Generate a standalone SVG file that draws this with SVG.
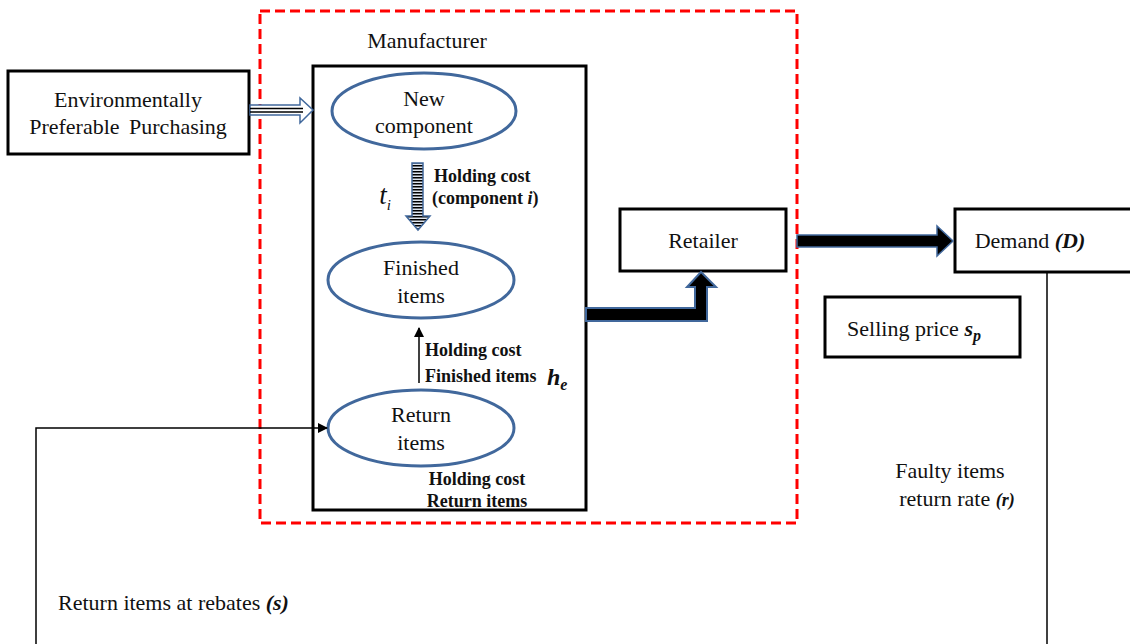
<svg xmlns="http://www.w3.org/2000/svg" width="1130" height="644" viewBox="0 0 1130 644">
<style>
.t{font-family:"Liberation Serif",serif;font-size:22px;fill:#111;text-anchor:middle}
.s{text-anchor:start}
.b{font-family:"Liberation Serif",serif;font-size:18px;font-weight:bold;fill:#111}
.c{text-anchor:middle}
.box{fill:#fff;stroke:#000;stroke-width:3}
.ell{fill:#fff;stroke:#41689c;stroke-width:3}
.ln{fill:none;stroke:#000;stroke-width:1.5}
</style>
<defs>
<marker id="ah" markerWidth="10" markerHeight="10" refX="9" refY="5" orient="auto" markerUnits="userSpaceOnUse">
<path d="M0,0 L10,5 L0,10 z" fill="#000"/>
</marker>
<pattern id="hs" width="4" height="3" patternUnits="userSpaceOnUse">
<rect width="4" height="3" fill="#dfe6f0"/>
<rect width="4" height="1.5" fill="#000"/>
</pattern>
</defs>
<rect width="1130" height="644" fill="#fff"/>

<g id="manufacturer-boundary">
<rect x="260" y="11" width="537" height="512" fill="none" stroke="#ff0000" stroke-width="3" stroke-dasharray="10,5"/>
<text class="t" x="427" y="48">Manufacturer</text>
</g>

<g id="manufacturer">
<rect class="box" x="313" y="66" width="273" height="444"/>
</g>

<g id="epp">
<rect class="box" x="8" y="71" width="241" height="83"/>
<text class="t" x="128" y="107">Environmentally</text>
<text class="t" x="128" y="134" word-spacing="4">Preferable Purchasing</text>
</g>

<g id="new-component">
<ellipse class="ell" cx="424" cy="111" rx="92" ry="38"/>
<text class="t" x="424" y="106">New</text>
<text class="t" x="424" y="133">component</text>
</g>

<g id="finished-items">
<ellipse class="ell" cx="421" cy="280" rx="93" ry="38"/>
<text class="t" x="421" y="275">Finished</text>
<text class="t" x="421" y="303">items</text>
</g>

<g id="return-items">
<ellipse class="ell" cx="421" cy="428" rx="93" ry="38"/>
<text class="t" x="421" y="422">Return</text>
<text class="t" x="421" y="450">items</text>
</g>

<g id="retailer">
<rect class="box" x="620" y="209" width="166" height="62"/>
<text class="t" x="703" y="248">Retailer</text>
</g>

<g id="demand">
<rect class="box" x="955" y="209" width="180" height="63"/>
<text class="t" x="1030" y="248">Demand <tspan font-style="italic" font-weight="bold">(D)</tspan></text>
</g>

<g id="selling-price">
<rect class="box" x="825" y="297" width="195" height="60"/>
<text class="t" x="914" y="336">Selling price <tspan font-style="italic" font-weight="bold">s</tspan><tspan font-style="italic" font-weight="bold" font-size="16" dy="5">p</tspan></text>
</g>

<g id="connectors">
<polygon points="250,105 300,105 300,98 313,110 300,123 300,115 250,115" fill="#fff" stroke="#41689c" stroke-width="1.5"/>
<line x1="250" y1="108.5" x2="303" y2="108.5" stroke="#000" stroke-width="1.5"/>
<line x1="250" y1="112" x2="303" y2="112" stroke="#000" stroke-width="1.5"/>
<polygon points="412,163 423,163 423,216 430,216 418,230 406,216 412,216" fill="url(#hs)" stroke="#41689c" stroke-width="1.5"/>
<line class="ln" x1="419" y1="383" x2="419" y2="328" marker-end="url(#ah)"/>
<polygon points="586,308 695,308 695,287 687,287 701,272 716,287 707,287 707,321 586,321" fill="#000" stroke="#41689c" stroke-width="2"/>
<polygon points="797,235 937,235 937,226 953,241 937,256 937,247 797,247" fill="#000" stroke="#41689c" stroke-width="1.5"/>
<line class="ln" x1="1047" y1="272" x2="1047" y2="644"/>
<polyline class="ln" points="36,644 36,428 327,428" marker-end="url(#ah)"/>
</g>

<g id="labels">
<text x="385" y="204" font-family="Liberation Serif,serif" font-size="27" font-style="italic" fill="#111" text-anchor="middle">t<tspan font-size="15" dy="6">i</tspan></text>
<text class="b" x="434" y="182">Holding cost</text>
<text class="b" x="432" y="204">(component <tspan font-style="italic">i</tspan>)</text>
<text class="b" x="425" y="356">Holding cost</text>
<text class="b" x="425" y="382">Finished items</text>
<text x="547" y="385" font-family="Liberation Serif,serif" font-size="24" font-style="italic" font-weight="bold" fill="#111">h<tspan font-size="16" dy="5">e</tspan></text>
<text class="b c" x="477" y="485">Holding cost</text>
<text class="b c" x="477" y="507">Return items</text>
<text class="t" x="950" y="478">Faulty items</text>
<text class="t" x="957" y="506">return rate <tspan font-style="italic" font-weight="bold" font-size="18">(r)</tspan></text>
<text class="t s" x="58" y="610">Return items at rebates <tspan font-style="italic" font-weight="bold">(s)</tspan></text>
</g>
</svg>
